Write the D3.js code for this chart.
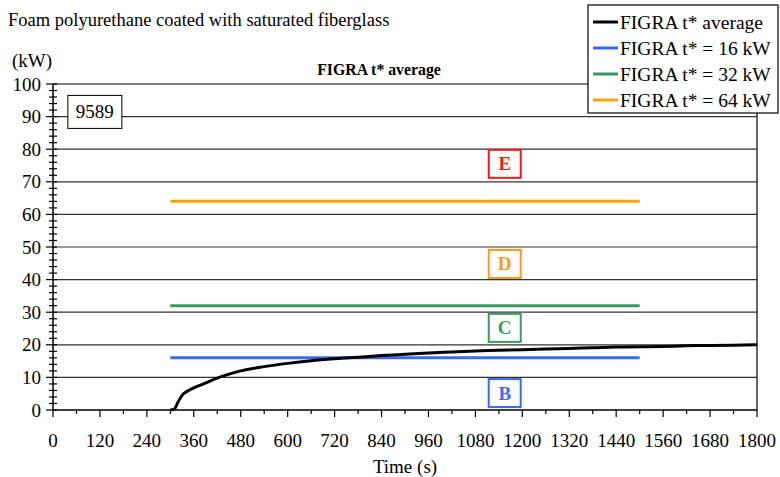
<!DOCTYPE html>
<html lang="en">
<head>
    <meta charset="UTF-8">
    <script src="https://d3js.org/d3.v7.min.js"></script>
    <title>FIGRA t* average</title>
    <style>
        body { margin: 0; background: #fff; }
        text { font-family: "Liberation Serif", "Times New Roman", serif; fill: #000; }
    </style>
</head>
<body>
    <div id="chart"></div>
    <script>

        // measured FIGRA t* average curve
        const times = [300, 310, 320, 330, 340, 350, 360, 380, 400, 420, 450, 480, 540, 600, 660, 720, 780, 840,
                       900, 960, 1020, 1080, 1140, 1200, 1260, 1320, 1380, 1440, 1500, 1560, 1620, 1680, 1740, 1800];
        const figra = [0, 0.3, 2.5, 4.5, 5.5, 6.2, 6.8, 7.8, 8.8, 9.8, 11, 12, 13.3, 14.3, 15.1, 15.7, 16.2, 16.7,
                       17.1, 17.5, 17.8, 18.1, 18.3, 18.5, 18.7, 18.9, 19.1, 19.3, 19.4, 19.5, 19.7, 19.8, 19.9, 20.0];

        // class limits
        const limits = [
            {name: "FIGRA t* = 16 kW", value: 16, color: "#3a6bf2"},
            {name: "FIGRA t* = 32 kW", value: 32, color: "#38995f"},
            {name: "FIGRA t* = 64 kW", value: 64, color: "#ffa00a"}
        ];
        const limitStart = 300, limitEnd = 1500;

        const classes = [
            {letter: "E", y: 75.5, color: "#ee1c1c"},
            {letter: "D", y: 44.8, color: "#ff9a10"},
            {letter: "C", y: 25.2, color: "#3a9a62"},
            {letter: "B", y: 5.2, color: "#3a6bf2"}
        ];
        const classX = 1155;

        const xTicks = d3.range(0, 1801, 120);
        const yTicks = d3.range(0, 101, 10);

        var width = 780, height = 477;
        var margin = {left: 53, right: 23, top: 84, bottom: 67};

        var svg = d3.select("#chart").append("svg")
            .attr("width", width).attr("height", height);

        var x = d3.scaleLinear().domain([0, 1800]).range([margin.left, width - margin.right]);
        var y = d3.scaleLinear().domain([0, 100]).range([height - margin.bottom, margin.top]);

        // grid lines
        svg.append("g").selectAll("line")
            .data(yTicks.filter(d => d > 0))
            .enter().append("line")
            .attr("x1", x(0)).attr("x2", x(1800))
            .attr("y1", d => y(d)).attr("y2", d => y(d))
            .attr("stroke", d => d == 100 ? "#000" : "#333")
            .attr("stroke-width", 1.2);

        // right border
        svg.append("line")
            .attr("x1", x(1800)).attr("x2", x(1800))
            .attr("y1", y(100)).attr("y2", y(0))
            .attr("stroke", "#000").attr("stroke-width", 1.2);

        // y axis
        var yAxis = svg.append("g");
        yAxis.append("line")
            .attr("x1", x(0)).attr("x2", x(0)).attr("y1", y(0)).attr("y2", y(100))
            .attr("stroke", "#000").attr("stroke-width", 1.5);
        yAxis.selectAll(".minor")
            .data(d3.range(0, 101, 2))
            .enter().append("line")
            .attr("x1", d => d % 10 == 0 ? x(0) - 7 : x(0) - 4)
            .attr("x2", x(0) + 4)
            .attr("y1", d => y(d)).attr("y2", d => y(d))
            .attr("stroke", "#000").attr("stroke-width", 1.2);
        yAxis.selectAll("text")
            .data(yTicks)
            .enter().append("text")
            .attr("x", x(0) - 12)
            .attr("y", d => y(d) + 6.5)
            .attr("text-anchor", "end")
            .attr("font-size", "19px")
            .text(d => d);

        // x axis
        var xAxis = svg.append("g");
        xAxis.append("line")
            .attr("x1", x(0)).attr("x2", x(1800)).attr("y1", y(0)).attr("y2", y(0))
            .attr("stroke", "#000").attr("stroke-width", 1.5);
        xAxis.selectAll(".tick")
            .data(d3.range(0, 1801, 60))
            .enter().append("line")
            .attr("x1", d => x(d)).attr("x2", d => x(d))
            .attr("y1", y(0))
            .attr("y2", d => d % 120 == 0 ? y(0) + 7 : y(0) + 4)
            .attr("stroke", "#000").attr("stroke-width", 1.2);
        xAxis.selectAll("text")
            .data(xTicks)
            .enter().append("text")
            .attr("x", d => x(d))
            .attr("y", y(0) + 37)
            .attr("text-anchor", "middle")
            .attr("font-size", "19px")
            .text(d => d);

        // limit lines
        svg.append("g").selectAll("line")
            .data(limits)
            .enter().append("line")
            .attr("x1", x(limitStart)).attr("x2", x(limitEnd))
            .attr("y1", d => y(d.value)).attr("y2", d => y(d.value))
            .attr("stroke", d => d.color)
            .attr("stroke-width", 3);

        // class boxes
        var cls = svg.append("g").selectAll("g")
            .data(classes)
            .enter().append("g")
            .attr("transform", d => "translate(" + x(classX) + "," + y(d.y) + ")");
        cls.append("rect")
            .attr("x", -16).attr("y", -14).attr("width", 32).attr("height", 28)
            .attr("fill", "#fff")
            .attr("stroke", d => d.color).attr("stroke-width", 2);
        cls.append("text")
            .attr("y", 6.5)
            .attr("text-anchor", "middle")
            .attr("font-size", "19px")
            .attr("font-weight", "bold")
            .style("fill", d => d.color)
            .text(d => d.letter);

        // FIGRA curve
        var line = d3.line()
            .x((d, i) => x(times[i]))
            .y(d => y(d))
            .curve(d3.curveMonotoneX);
        svg.append("path")
            .datum(figra)
            .attr("d", line)
            .attr("fill", "none")
            .attr("stroke", "#000")
            .attr("stroke-width", 3);

        // sample id box
        var idBox = svg.append("g").attr("transform", "translate(" + x(38) + "," + y(96.5) + ")");
        idBox.append("rect")
            .attr("width", 54).attr("height", 33)
            .attr("fill", "#fff").attr("stroke", "#000").attr("stroke-width", 1);
        idBox.append("text")
            .attr("x", 27).attr("y", 23)
            .attr("text-anchor", "middle")
            .attr("font-size", "19px")
            .text("9589");

        // titles
        svg.append("text")
            .attr("x", 8).attr("y", 26)
            .attr("font-size", "18.5px")
            .text("Foam polyurethane coated with saturated fiberglass");
        svg.append("text")
            .attr("x", 12).attr("y", 67)
            .attr("font-size", "19px")
            .text("(kW)");
        svg.append("text")
            .attr("x", 379).attr("y", 75)
            .attr("text-anchor", "middle")
            .attr("font-size", "15.8px")
            .attr("font-weight", "bold")
            .text("FIGRA t* average");
        svg.append("text")
            .attr("x", 405).attr("y", 473)
            .attr("text-anchor", "middle")
            .attr("font-size", "19px")
            .text("Time (s)");

        // legend
        var legendItems = [{name: "FIGRA t* average", color: "#000"}].concat(limits);
        var legend = svg.append("g").attr("transform", "translate(588,5)");
        legend.append("rect")
            .attr("width", 190).attr("height", 108)
            .attr("fill", "#fff").attr("stroke", "#000").attr("stroke-width", 1.2);
        var li = legend.selectAll(".item")
            .data(legendItems)
            .enter().append("g")
            .attr("transform", (d, i) => "translate(0," + (17 + i * 26) + ")");
        li.append("line")
            .attr("x1", 5).attr("x2", 30)
            .attr("stroke", d => d.color).attr("stroke-width", 3);
        li.append("text")
            .attr("x", 32).attr("y", 6.5)
            .attr("font-size", "19.5px")
            .text(d => d.name);
    </script>
</body>
</html>
